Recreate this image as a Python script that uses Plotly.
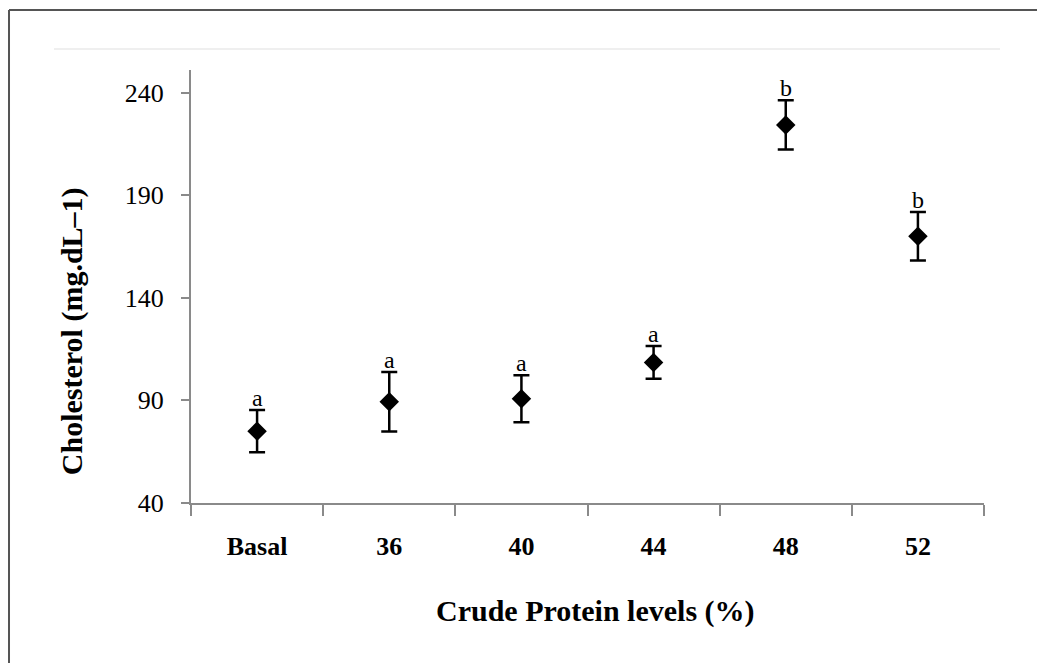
import plotly.graph_objects as go

categories = ["Basal", "36", "40", "44", "48", "52"]
means = [75, 89.3, 90.8, 108.5, 224.2, 170]
errors = [10.3, 14.5, 11.4, 8, 12, 11.8]
letters = ["a", "a", "a", "a", "b", "b"]
y_ticks = [40, 90, 140, 190, 240]
x_title = "Crude Protein levels (%)"
y_title = "Cholesterol (mg.dL–1)"

SERIF = "Liberation Serif, Times New Roman, serif"

fig = go.Figure()
fig.add_trace(go.Scatter(
    x=categories, y=means, mode="markers",
    marker=dict(symbol="diamond", size=15, color="black"),
    error_y=dict(type="data", array=errors, visible=True, color="black",
                 thickness=2.5, width=8),
    showlegend=False,
))

for i, (m, e, l) in enumerate(zip(means, errors, letters)):
    fig.add_annotation(x=i, y=m + e, text=l, showarrow=False, yanchor="bottom",
                       yshift=-3, font=dict(family=SERIF, size=24, color="black"))

# axis titles (positioned as in the reference)
fig.add_annotation(xref="paper", yref="paper", x=0.51, y=-0.249, text=x_title,
                   showarrow=False, xanchor="center", yanchor="middle",
                   font=dict(family=SERIF, size=30, color="black", weight="bold"))
fig.add_annotation(xref="paper", yref="paper", x=-0.150, y=0.397, text=y_title,
                   textangle=-90, showarrow=False, xanchor="center", yanchor="middle",
                   font=dict(family=SERIF, size=30, color="black", weight="bold"))

# faint plot-area top border and outer frame
fig.add_shape(type="line", xref="paper", yref="paper", x0=-0.1728, x1=1.0202,
              y0=1.0485, y1=1.0485, line=dict(color="#efefef", width=2))
fig.add_shape(type="line", xref="paper", yref="paper", x0=-0.2295, x1=-0.2295,
              y0=1.1386, y1=-0.40, line=dict(color="#555555", width=2))
fig.add_shape(type="line", xref="paper", yref="paper", x0=-0.2295, x1=1.08,
              y0=1.1386, y1=1.1386, line=dict(color="#555555", width=2))

fig.update_layout(
    width=1037, height=663,
    margin=dict(l=191, r=53, t=70, b=160, autoexpand=False),
    plot_bgcolor="white", paper_bgcolor="white",
    font=dict(family=SERIF, color="black"),
    xaxis=dict(
        type="category", tickson="boundaries", range=[-0.5, 5.5],
        showline=True, linecolor="#8a8a8a", linewidth=2,
        ticks="outside", ticklen=11, tickcolor="#8a8a8a", tickwidth=2,
        showgrid=False, zeroline=False, ticklabelstandoff=19,
        tickfont=dict(family=SERIF, size=26, color="black", weight="bold"),
    ),
    yaxis=dict(
        range=[40, 251], tickvals=y_ticks, ticktext=[str(v) for v in y_ticks],
        showline=True, linecolor="#8a8a8a", linewidth=2,
        ticks="outside", ticklen=8, tickcolor="#8a8a8a", tickwidth=2,
        showgrid=False, zeroline=False, ticklabelstandoff=12,
        tickfont=dict(family=SERIF, size=26, color="black"),
    ),
)

fig.write_html("out.html", config={"displayModeBar": False},
               post_script="document.body.style.margin='0';")
